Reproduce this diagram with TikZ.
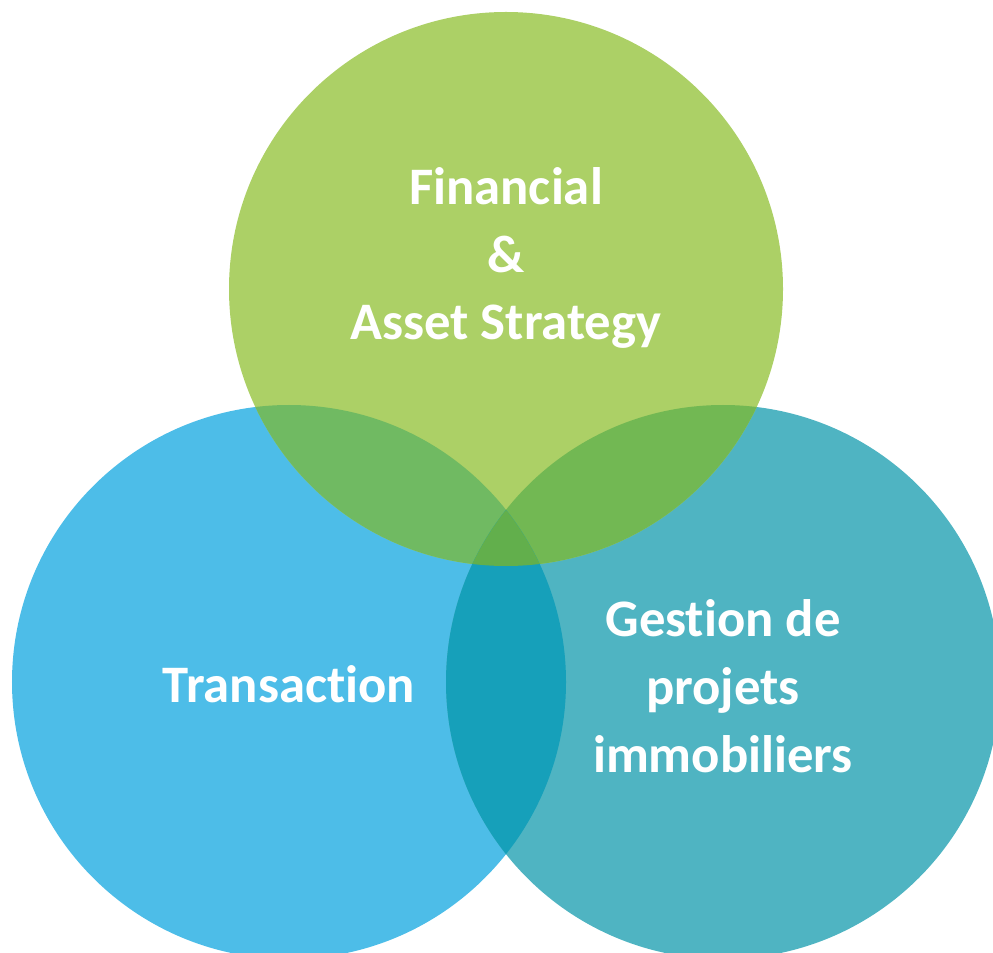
\documentclass[tikz,border=0pt]{standalone}
\usepackage{fontspec}
\setmainfont[Ligatures={NoCommon,NoRare}]{Carlito}
\usetikzlibrary{positioning}
\definecolor{fingreen}{HTML}{ACD066}
\definecolor{trablue}{HTML}{4DBDE8}
\definecolor{gesteal}{HTML}{4FB4C2}
\definecolor{tragreen}{HTML}{70BA62}
\definecolor{gesgreen}{HTML}{72B853}
\definecolor{darkteal}{HTML}{16A0BA}
\definecolor{midgreen}{HTML}{62AF4C}

\begin{document}
\begin{tikzpicture}[venntext/.style={text=white,align=center,
    font=\bfseries\fontsize{15}{19.3}\selectfont}]
  \useasboundingbox (0,0) rectangle (9.93,9.52);
  \def\rad{2.77}
  \coordinate (fin) at (5.06,6.63);
  \coordinate (tra) at (2.89,2.70);
  \coordinate (ges) at (7.23,2.70);
  % circles
  \fill[trablue] (tra) circle (\rad);
  \fill[gesteal] (ges) circle (\rad);
  \fill[fingreen] (fin) circle (\rad);
  % overlaps
  \begin{scope}
    \clip (ges) circle (\rad);
    \fill[gesgreen] (fin) circle (\rad);
  \end{scope}
  \begin{scope}
    \clip (tra) circle (\rad);
    \fill[tragreen] (fin) circle (\rad);
    \fill[darkteal] (ges) circle (\rad);
    \clip (ges) circle (\rad);
    \fill[midgreen] (fin) circle (\rad);
  \end{scope}
  % texts
  \node[venntext] (fintext) at (5.06,6.94) {Financial\\\&\\Asset Strategy};
  \node[venntext] (tratext) at (2.89,2.68) {Transaction};
  \node[venntext] (gestext) at (7.23,2.66) {Gestion de\\projets\\immobiliers};
\end{tikzpicture}
\end{document}
